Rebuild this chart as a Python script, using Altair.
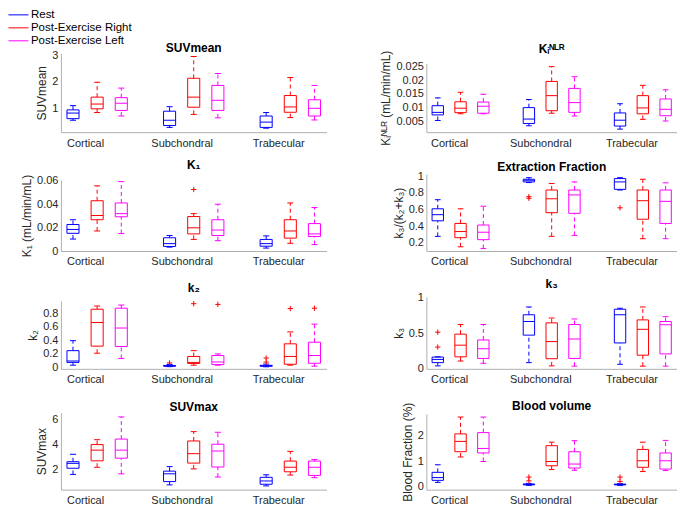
import json
import altair as alt
import pandas as pd

categories = ["Cortical", "Subchondral", "Trabecular"]
conditions = ["Rest", "Post-Exercise Right", "Post-Exercise Left"]
colors = ["#0000ff", "#ff0000", "#ff00ff"]

# rows: [lower whisker, Q1, median, Q3, upper whisker]
# order: Cortical (Rest, Right, Left), Subchondral (...), Trabecular (...)
suvmean = [
    [0.55, 0.61, 0.82, 0.94, 1.10],
    [0.84, 0.98, 1.16, 1.42, 1.98],
    [0.71, 0.92, 1.19, 1.40, 1.76],
    [0.28, 0.35, 0.55, 0.89, 1.06],
    [0.77, 1.04, 1.42, 2.13, 2.95],
    [0.64, 0.92, 1.30, 1.86, 2.31],
    [0.25, 0.28, 0.48, 0.71, 0.84],
    [0.65, 0.85, 1.05, 1.48, 2.16],
    [0.56, 0.71, 1.00, 1.32, 1.86],
]
suvmean_out = []

ki = [
    [0.0055, 0.0075, 0.0084, 0.0108, 0.0136],
    [0.0079, 0.0083, 0.0099, 0.0122, 0.0156],
    [0.0079, 0.0081, 0.0106, 0.0121, 0.0149],
    [0.0036, 0.0044, 0.0060, 0.0101, 0.0130],
    [0.0081, 0.0090, 0.0144, 0.0195, 0.0248],
    [0.0071, 0.0084, 0.0119, 0.0170, 0.0212],
    [0.0024, 0.0035, 0.0056, 0.0082, 0.0115],
    [0.0059, 0.0079, 0.0100, 0.0144, 0.0181],
    [0.0053, 0.0072, 0.0095, 0.0132, 0.0165],
]
ki_out = []

k1 = [
    [0.0102, 0.0151, 0.0184, 0.0226, 0.0267],
    [0.0171, 0.0267, 0.0303, 0.0429, 0.0556],
    [0.0149, 0.0292, 0.0319, 0.0410, 0.0592],
    [0.0033, 0.0039, 0.0063, 0.0113, 0.0132],
    [0.0099, 0.0146, 0.0198, 0.0294, 0.0319],
    [0.0088, 0.0132, 0.0179, 0.0267, 0.0399],
    [0.0025, 0.0041, 0.0063, 0.0099, 0.0129],
    [0.0066, 0.0110, 0.0171, 0.0267, 0.0410],
    [0.0055, 0.0124, 0.0146, 0.0234, 0.0371],
]
k1_out = [(4, 0.0525)]

ef = [
    [0.275, 0.463, 0.537, 0.608, 0.718],
    [0.149, 0.259, 0.333, 0.431, 0.608],
    [0.129, 0.235, 0.325, 0.412, 0.639],
    [0.925, 0.933, 0.953, 0.965, 0.984],
    [0.275, 0.561, 0.729, 0.835, 0.914],
    [0.286, 0.553, 0.776, 0.835, 0.933],
    [0.835, 0.843, 0.933, 0.973, 0.984],
    [0.247, 0.482, 0.706, 0.835, 0.965],
    [0.247, 0.431, 0.698, 0.835, 0.922],
]
ef_out = [(3, 0.755), (3, 0.735), (6, 0.62)]

k2 = [
    [0.034, 0.075, 0.096, 0.249, 0.397],
    [0.211, 0.316, 0.666, 0.862, 0.910],
    [0.134, 0.311, 0.584, 0.877, 0.924],
    [0.012, 0.018, 0.024, 0.030, 0.045],
    [0.034, 0.060, 0.075, 0.163, 0.249],
    [0.034, 0.043, 0.081, 0.177, 0.201],
    [0.010, 0.018, 0.025, 0.032, 0.050],
    [0.034, 0.048, 0.163, 0.350, 0.527],
    [0.019, 0.062, 0.177, 0.374, 0.642],
]
k2_out = [(3, 0.067), (4, 0.944), (5, 0.934), (6, 0.14), (6, 0.08), (7, 0.872), (8, 0.877)]

k3 = [
    [0.032, 0.078, 0.124, 0.157, 0.161],
    [0.101, 0.161, 0.327, 0.484, 0.622],
    [0.069, 0.138, 0.276, 0.401, 0.622],
    [0.078, 0.470, 0.664, 0.760, 0.871],
    [0.032, 0.134, 0.378, 0.645, 0.714],
    [0.028, 0.138, 0.415, 0.622, 0.700],
    [0.055, 0.359, 0.760, 0.839, 0.853],
    [0.028, 0.184, 0.553, 0.687, 0.871],
    [0.028, 0.203, 0.618, 0.664, 0.733],
]
k3_out = [(0, 0.512), (0, 0.30)]

suvmax = [
    [1.64, 2.13, 2.52, 2.65, 3.24],
    [2.21, 2.72, 3.57, 4.01, 4.40],
    [1.69, 2.93, 3.57, 4.45, 6.21],
    [0.81, 1.07, 1.69, 1.90, 2.26],
    [2.08, 2.54, 3.29, 4.30, 5.04],
    [1.43, 2.23, 3.50, 4.04, 4.99],
    [0.73, 0.86, 1.12, 1.41, 1.61],
    [1.59, 1.85, 2.21, 2.70, 3.47],
    [1.38, 1.56, 2.21, 2.70, 2.83],
]
suvmax_out = []

blood = [
    [0.15, 0.23, 0.34, 0.55, 0.85],
    [1.16, 1.37, 1.78, 2.08, 2.75],
    [0.98, 1.32, 1.50, 2.13, 2.75],
    [0.03, 0.05, 0.07, 0.085, 0.11],
    [0.66, 0.81, 0.98, 1.61, 1.75],
    [0.63, 0.72, 0.88, 1.37, 1.81],
    [0.03, 0.05, 0.065, 0.08, 0.10],
    [0.58, 0.75, 1.01, 1.46, 1.75],
    [0.62, 0.68, 1.01, 1.32, 1.82],
]
blood_out = [(3, 0.36), (3, 0.21), (6, 0.36), (6, 0.19)]

FONT = "Liberation Sans"
LEFT_W, RIGHT_W = 266, 251

legend = alt.Legend(
    orient="none", legendX=-53, legendY=-45, title=None,
    symbolType="stroke", symbolSize=400, symbolStrokeWidth=1,
    labelFontSize=11.5, labelFont=FONT, labelColor="black",
    clipHeight=13, rowPadding=0, labelOffset=2, padding=0,
)
color = alt.Color("cond:N", scale=alt.Scale(domain=conditions, range=colors), legend=legend)


def pos_of(g):
    c, k = divmod(g, 3)
    return 1 + 4 * c + k


def panel(title, ytitle, stats, outliers, domain, ticks, width, height, top, toff, tdy):
    rows = []
    for g, (lo, q1, med, q3, hi) in enumerate(stats):
        p = pos_of(g)
        rows.append(dict(cond=conditions[g % 3], pos=p, l=p - 0.25, r=p + 0.25,
                         cl=p - 0.125, cr=p + 0.125,
                         lo=lo, q1=q1, med=med, q3=q3, hi=hi))
    df = pd.DataFrame(rows)
    xs = alt.Scale(domain=[0.5, 11.5], nice=False, zero=False)
    ys = alt.Scale(domain=domain, nice=False, zero=False, range=[height, top])
    xaxis = alt.Axis(values=[1.5, 5.5, 9.5],
                     labelExpr=json.dumps(categories) + "[floor(datum.value/4)]",
                     title=None, grid=False, ticks=False, tickSize=0, labelPadding=5)
    yaxis = alt.Axis(values=ticks, format="~g", title=ytitle, grid=False,
                     ticks=False, tickSize=0, labelPadding=3, titlePadding=3,
                     titleFontSize=12)

    def X(f):
        return alt.X(f, scale=xs, axis=xaxis)

    def Y(f):
        return alt.Y(f, scale=ys, axis=yaxis)

    base = alt.Chart(df)
    box = base.mark_rect(filled=False, fillOpacity=0, strokeWidth=1).encode(
        x=X("l:Q"), x2="r:Q", y=Y("q1:Q"), y2="q3:Q", color=color)
    whi = base.mark_rule(strokeDash=[4, 3], strokeWidth=1).encode(
        x=X("pos:Q"), y=Y("q3:Q"), y2="hi:Q", color=color)
    wlo = base.mark_rule(strokeDash=[4, 3], strokeWidth=1).encode(
        x=X("pos:Q"), y=Y("lo:Q"), y2="q1:Q", color=color)
    chi = base.mark_rule(strokeWidth=1).encode(x=X("cl:Q"), x2="cr:Q", y=Y("hi:Q"), color=color)
    clo = base.mark_rule(strokeWidth=1).encode(x=X("cl:Q"), x2="cr:Q", y=Y("lo:Q"), color=color)
    med = base.mark_rule(strokeWidth=1).encode(x=X("l:Q"), x2="r:Q", y=Y("med:Q"), color=color)
    layers = [box, whi, wlo, chi, clo, med]
    if outliers:
        odf = pd.DataFrame([dict(pos=pos_of(g), v=v) for g, v in outliers])
        pts = alt.Chart(odf).mark_point(shape="M-1,0H1M0,-1V1", filled=False,
                                        strokeWidth=1, size=28, color="#ff0000",
                                        opacity=1).encode(
            x=X("pos:Q"), y=Y("v:Q"))
        layers.append(pts)
    return alt.layer(*layers).properties(
        width=width, height=height,
        title=alt.TitleParams(title, anchor="middle", frame="group", baseline="middle",
                              offset=toff, dy=tdy, fontSize=12, fontWeight="bold",
                              font=FONT, color="black"),
    )


panels = [
    panel("SUVmean", "SUVmean", suvmean, suvmean_out, [0.1, 3.07], [1, 2, 3],
          LEFT_W, 79, 0, 2.7, 13.5),
    panel("Kᵢᴺᴸᴿ", "Kᵢᴺᴸᴿ (mL/min/mL)", ki, ki_out, [0.0013, 0.026],
          [0.005, 0.01, 0.015, 0.02, 0.025], RIGHT_W, 79, 10, 4, 15),
    panel("K₁", "K₁ (mL/min/mL)", k1, k1_out, [0, 0.0605], [0, 0.02, 0.04, 0.06],
          LEFT_W, 77, 6, 8.7, 12),
    panel("Extraction Fraction", "k₃/(k₂+k₃)", ef, ef_out, [0.098, 1.027],
          [0.2, 0.4, 0.6, 0.8, 1], RIGHT_W, 77, 0, 4.8, 13),
    panel("k₂", "k₂", k2, k2_out, [-0.02, 0.985], [0, 0.2, 0.4, 0.6, 0.8],
          LEFT_W, 76, 8, 5.2, 12),
    panel("k₃", "k₃", k3, k3_out, [-0.01, 1.014], [0, 0.5, 1],
          RIGHT_W, 76, 4, 8.2, 12),
    panel("SUVmax", "SUVmax", suvmax, suvmax_out, [0.43, 6.54], [2, 4, 6],
          LEFT_W, 79, 2, 4.9, 13),
    panel("Blood volume", "Blood Fraction (%)", blood, blood_out, [-0.14, 2.88], [0, 1, 2],
          RIGHT_W, 79, 3, 4.9, 21),
]

chart = alt.concat(*panels, columns=2, spacing={"row": 42, "column": 100},
                   bounds="flush").properties(padding=0).configure_view(
    stroke=None
).configure_axis(
    labelFont=FONT, titleFont=FONT, labelFontSize=11, titleFontSize=12,
    labelColor="#262626", titleColor="#262626", titleFontWeight="normal",
    domainColor="#b0b0b0", domainWidth=1,
).configure_legend(
    labelFont=FONT, labelFontSize=11.5, labelColor="black",
)

chart.save("out.html", embed_options={"renderer": "svg", "actions": False})
